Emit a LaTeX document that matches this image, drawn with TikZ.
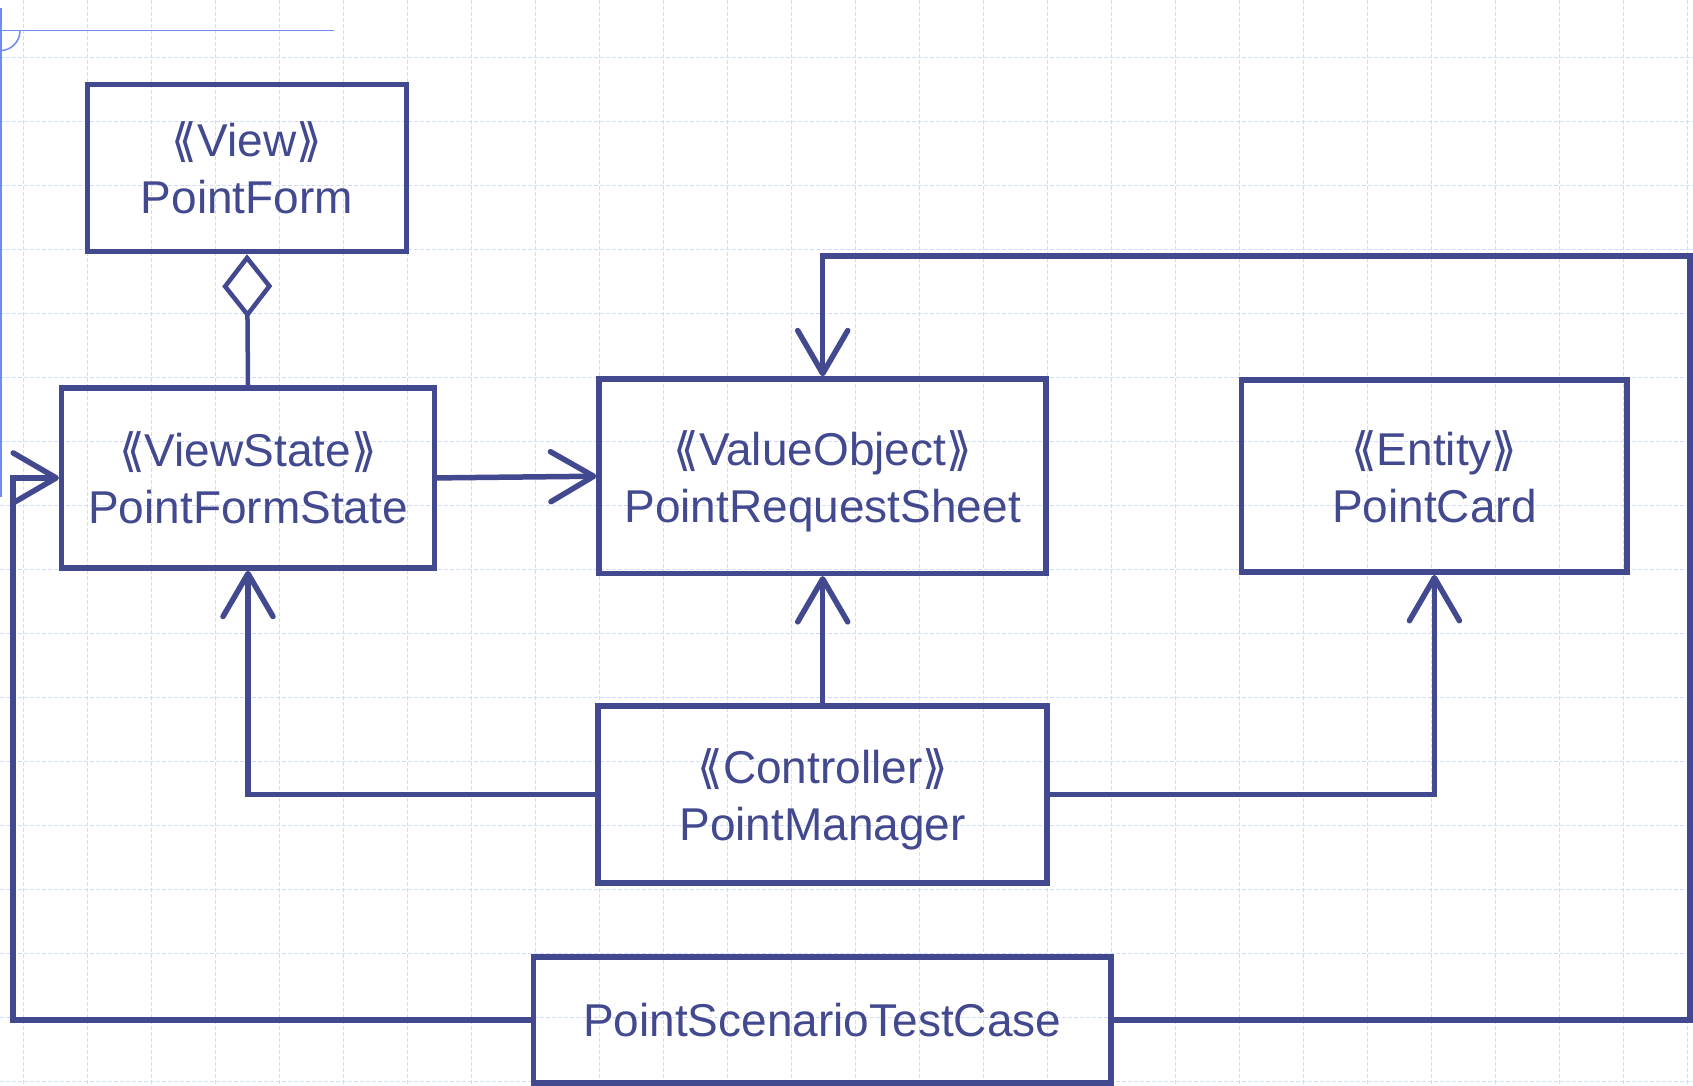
\documentclass[tikz,border=0pt]{standalone}
\usepackage{fontspec}
\setmainfont{Liberation Sans}
\newfontfamily\symfam{DejaVu Sans}
\usetikzlibrary{arrows.meta}
\definecolor{uml}{RGB}{67,73,143}
\definecolor{gridc}{RGB}{208,220,250}
\definecolor{deco}{RGB}{110,140,240}
\newcommand{\stL}{{\symfam ⟪}}
\newcommand{\stR}{{\symfam ⟫}}
\begin{document}
\begin{tikzpicture}[x=1pt,y=-1pt,
  cls/.style={draw=uml, line width=5.5pt, text=uml, align=center,
    font=\fontsize{46}{57}\selectfont, inner sep=0pt, text depth=0pt},
  conn/.style={draw=uml, line width=5.5pt,
    -{Straight Barb[length=43pt,width=50pt,round]}},
  gridline/.style={draw=gridc, line width=1.5pt, dash pattern=on 3.5pt off 2.5pt},
  decoline/.style={draw=deco, line width=1.5pt}
]
\fill[white] (0,0) rectangle (1693,1085);
\useasboundingbox (0,0) rectangle (1693,1085);
% grid
\foreach \i in {0,...,26} \draw[gridline] ({23.7+64*\i},0) -- ++(0,1085);
\foreach \j in {0,...,16} \draw[gridline] (0,{57.3+64*\j}) -- ++(1693,0);
% corner decoration
\draw[decoline] (0,30.7) -- (334,30.7);
\draw[decoline] (1,8) -- (1,497);
\draw[decoline] (20,30.7) arc[start angle=0,end angle=90,radius=20];
% classes
\node[cls, minimum width=319pt, minimum height=167pt] (pf) at (247,168) {\stL View\stR\\PointForm};
\node[cls, minimum width=372.6pt, minimum height=180.3pt] (pfs) at (248,477.9) {\stL ViewState\stR\\PointFormState};
\node[cls, minimum width=447pt, minimum height=194.3pt] (prs) at (822.7,476.2) {\stL ValueObject\stR\\PointRequestSheet};
\node[cls, minimum width=385.4pt, minimum height=192.2pt] (pc) at (1434.4,476.1) {\stL Entity\stR\\PointCard};
\node[cls, minimum width=449pt, minimum height=177pt] (pm) at (822.7,794.6) {\stL Controller\stR\\PointManager};
\node[cls, minimum width=577.6pt, minimum height=126.4pt] (pstc) at (822.2,1020) {PointScenarioTestCase};
% connectors
\draw[draw=uml, line width=4.5pt, {Diamond[open, length=64pt, width=50pt]}-] (pf.south) -- (pfs.north);
\draw[conn] (pfs.east) -- (prs.west);
\draw[conn] (pm.west) -| (pfs.south);
\draw[conn] (pm.north) -- (prs.south);
\draw[conn] (pm.east) -| (pc.south);
\coordinate (c1) at (13,477.9);
\draw[conn] (pstc.west) -| (c1) -- (pfs.west);
\coordinate (c2) at (1690,256);
\draw[conn] (pstc.east) -| (c2) -| (prs.north);
\end{tikzpicture}
\end{document}
